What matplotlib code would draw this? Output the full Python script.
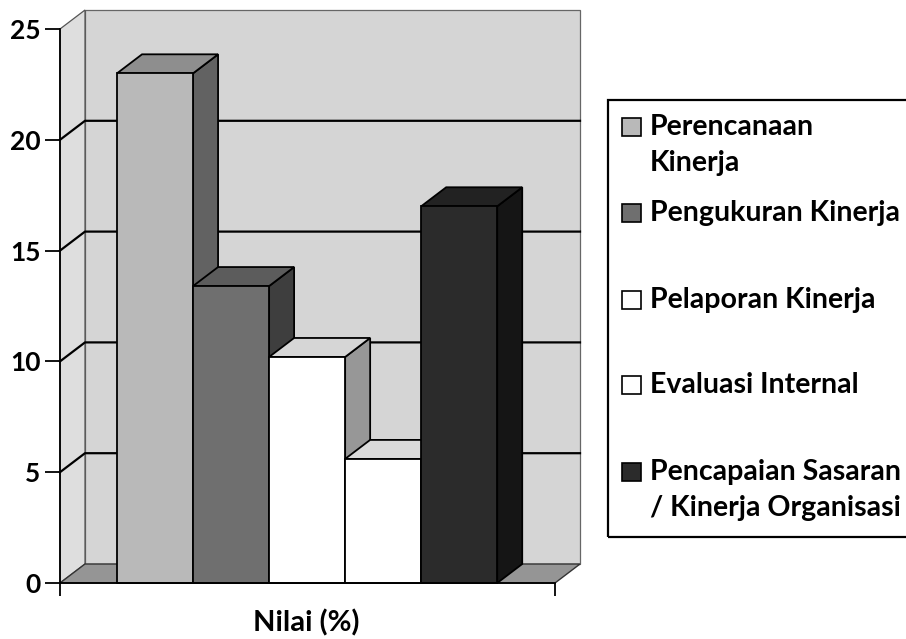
import matplotlib
matplotlib.use("Agg")
import matplotlib.pyplot as plt
from matplotlib.patches import Polygon, Rectangle

# data
categories = ["Perencanaan\nKinerja", "Pengukuran Kinerja", "Pelaporan Kinerja",
              "Evaluasi Internal", "Pencapaian Sasaran\n/ Kinerja Organisasi"]
values = [23.0, 13.4, 10.2, 5.6, 17.0]
y_ticks = [0, 5, 10, 15, 20, 25]
x_label = "Nilai (%)"

# grey shades of the scanned excel chart (front / top / side of each bar)
front_colors = ["#b9b9b9", "#6f6f6f", "#ffffff", "#ffffff", "#2b2b2b"]
top_colors = ["#8e8e8e", "#5c5c5c", "#d6d6d6", "#dadada", "#222222"]
side_colors = ["#626262", "#3e3e3e", "#979797", "#979797", "#151515"]

plt.rcParams['font.family'] = ['Lato', 'DejaVu Sans']
plt.rcParams['font.weight'] = 'bold'

W, H = 906, 639
fig = plt.figure(figsize=(W / 100, H / 100), dpi=100)
ax = fig.add_axes([60 / W, (H - 583) / H, (555 - 60) / W, (583 - 29) / H])

x0, x1 = -1.25, 5.26
ymax = y_ticks[-1]
ax.set_xlim(x0, x1)
ax.set_ylim(0, ymax)
ax.patch.set_visible(False)

# depth of the fake 3d box: pixels -> data units
pos = ax.get_position()
dx = 25 * (x1 - x0) / (pos.width * W)
dy = 19 * ymax / (pos.height * H)


def face(pts, color, z, lw=1.3, ec="black"):
    ax.add_patch(Polygon(pts, closed=True, fc=color, ec=ec, lw=lw, zorder=z,
                         clip_on=False, joinstyle="miter"))


# walls and floor
face([(x0 + dx, dy), (x1 + dx, dy), (x1 + dx, ymax + dy), (x0 + dx, ymax + dy)],
     "#d5d5d5", 0, lw=0.9, ec="#666666")
face([(x0, 0), (x0 + dx, dy), (x0 + dx, ymax + dy), (x0, ymax)],
     "#dedede", 0, lw=0.9, ec="#555555")
face([(x0, 0), (x1, 0), (x1 + dx, dy), (x0 + dx, dy)], "#959595", 0.5, lw=1.0, ec="#333333")

for t in y_ticks[1:-1]:
    ax.plot([x0, x0 + dx, x1 + dx], [t, t + dy, t + dy], color="black", lw=1.6,
            zorder=0.6, clip_on=False)

# bars: front face with the axis bar(), side and top from its geometry
bars = ax.bar(range(len(values)), values, width=1.0, color=front_colors,
              edgecolor="black", linewidth=1.3)
for i, rect in enumerate(bars):
    z = 2 + 3 * i
    xl = rect.get_x()
    xr = xl + rect.get_width()
    h = rect.get_height()
    face([(xr, 0), (xr + dx, dy), (xr + dx, h + dy), (xr, h)], side_colors[i], z)
    face([(xl, h), (xr, h), (xr + dx, h + dy), (xl + dx, h + dy)], top_colors[i], z + 1)
    rect.set_zorder(z + 2)
    rect.set_clip_on(False)

# axes
ax.set_yticks(y_ticks)
ax.tick_params(axis="y", direction="out", length=11, width=1.3, labelsize=19, pad=3)
ax.set_xticks([x0, x1])
ax.set_xticklabels(["", ""])
ax.tick_params(axis="x", direction="out", length=9, width=1.3)
for s in ["top", "right"]:
    ax.spines[s].set_visible(False)
for s in ["left", "bottom"]:
    ax.spines[s].set_linewidth(1.3)
    ax.spines[s].set_zorder(50)

fig.text(306 / W, (H - 623) / H, x_label, ha="center", va="center", fontsize=21,
         fontweight="bold")

# legend drawn by hand (excel spacing is uneven)
fig.add_artist(Rectangle((608 / W, (H - 537) / H), (930 - 608) / W, (537 - 100) / H,
                         transform=fig.transFigure, fill=False, ec="black", lw=1.6,
                         clip_on=False))
entry_y = [127, 213, 300, 385, 472]
for lab, yc, fc in zip(categories, entry_y, front_colors):
    fig.add_artist(Rectangle((622 / W, (H - yc - 9) / H), 19 / W, 18 / H,
                             transform=fig.transFigure, fc=fc, ec="black", lw=1.2))
    for k, line in enumerate(lab.split("\n")):
        fig.text(650 / W, (H - yc - 36 * k) / H, line, ha="left", va="center",
                 fontsize=20.5, fontweight="bold")

fig.savefig("out.png", dpi=100, facecolor="white")
